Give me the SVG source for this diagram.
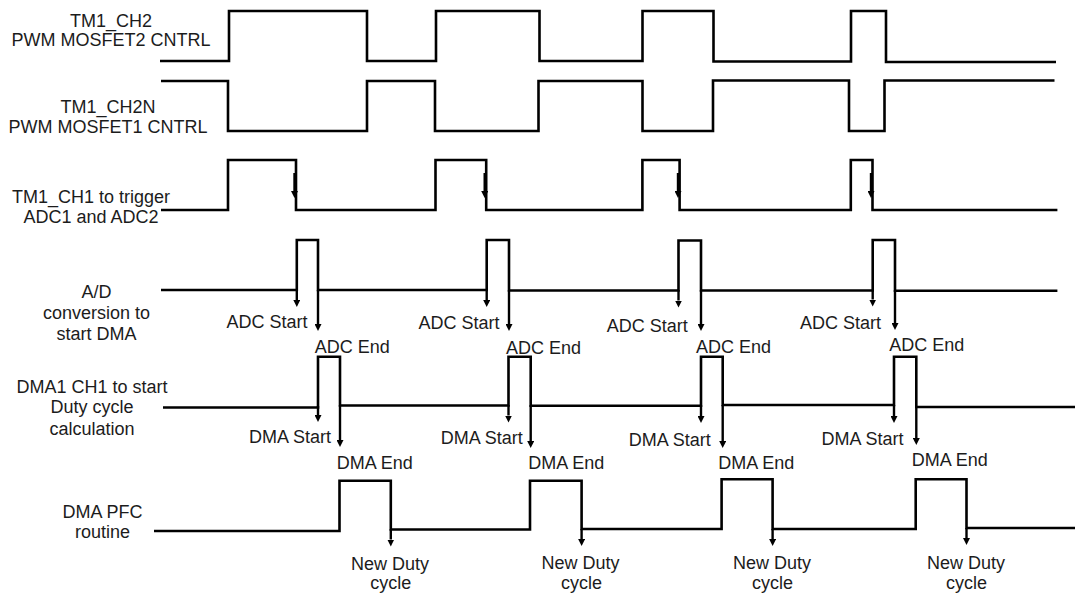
<svg xmlns="http://www.w3.org/2000/svg" width="1075" height="594" viewBox="0 0 1075 594">
<style>
.sig{fill:none;stroke:#000;stroke-width:2.6;stroke-linejoin:miter;stroke-linecap:butt}
.arr{fill:none;stroke:#000;stroke-width:2.4}
text{font-family:"Liberation Sans",Arial,sans-serif;font-size:18px;fill:#1c1c1c}
.c{text-anchor:middle}
</style>
<defs>
<marker id="ah" viewBox="0 0 7 7" refX="0" refY="3.5" markerWidth="7" markerHeight="7" markerUnits="userSpaceOnUse" orient="auto">
<path d="M0,0 L7,3.5 L0,7 z" fill="#000"/>
</marker>
</defs>
<rect width="1075" height="594" fill="#fff"/>

<g id="label-tm1ch2">
<text class="c" x="111" y="26.5">TM1_CH2</text>
<text class="c" x="111" y="46">PWM MOSFET2 CNTRL</text>
</g>
<g id="label-tm1ch2n">
<text class="c" x="108" y="112.5">TM1_CH2N</text>
<text class="c" x="108" y="132.5">PWM MOSFET1 CNTRL</text>
</g>
<g id="label-tm1ch1">
<text class="c" x="91" y="202.5">TM1_CH1 to trigger</text>
<text class="c" x="91" y="222.7">ADC1 and ADC2</text>
</g>
<g id="label-ad">
<text class="c" x="96.5" y="298.3">A/D</text>
<text class="c" x="96.5" y="318.5">conversion to</text>
<text class="c" x="96.5" y="340">start DMA</text>
</g>
<g id="label-dma">
<text class="c" x="92" y="392.7">DMA1 CH1 to start</text>
<text class="c" x="92" y="413.3">Duty cycle</text>
<text class="c" x="92" y="435">calculation</text>
</g>
<g id="label-pfc">
<text class="c" x="102.5" y="518.3">DMA PFC</text>
<text class="c" x="102.5" y="538">routine</text>
</g>

<g id="signal-tm1ch2">
<path class="sig" d="M160,61 H229 V11 H367 V61 H436 V11 H539.5 V61 H642.5 V11 H713.5 V61.5 H851 V11 H886 V62 H1056"/>
</g>
<g id="signal-tm1ch2n">
<path class="sig" d="M161,81 H228 V131 H367 V81 H435 V131 H538.5 V81 H642.5 V131 H713 V80.5 H849 V131 H884.5 V80.5 H1054.5"/>
</g>
<g id="signal-tm1ch1">
<path class="sig" d="M161,210 H228 V160 H296 V210 H435.5 V160 H486.2 V210 H642.4 V160 H679.6 V210 H850.8 V160 H872.5 V210 H1057.4"/>
</g>
<g id="signal-ad">
<path class="sig" d="M161,290 H296.8 V240 H318 V290 H486.7 V240 H509 V290.5 H678.5 V240.5 H701 V290.5 H872.7 V240 H895 V290.7 H1057.4"/>
</g>
<g id="signal-dma">
<path class="sig" d="M163,407.5 H318 V356.7 H340 V405.5 H508.5 V356.7 H530.7 V405.7 H701 V356.7 H722.7 V405 H894 V356.7 H916.3 V407 H1075"/>
</g>
<g id="signal-pfc">
<path class="sig" d="M154,531 H339.5 V480.7 H390.8 V529.5 H530 V480.7 H581.6 V529 H721.6 V479.3 H772.6 V529 H915.7 V479.3 H966.5 V528 H1075"/>
</g>

<g id="connectors">
<!-- TM1_CH1 falling-edge triggers -->
<line class="arr" x1="294.5" y1="173" x2="294.5" y2="191" marker-end="url(#ah)"/>
<line class="arr" x1="484.7" y1="173" x2="484.7" y2="191" marker-end="url(#ah)"/>
<line class="arr" x1="678" y1="173" x2="678" y2="191" marker-end="url(#ah)"/>
<line class="arr" x1="871" y1="173" x2="871" y2="191" marker-end="url(#ah)"/>
<!-- ADC Start -->
<line class="arr" x1="296.8" y1="290" x2="296.8" y2="300" marker-end="url(#ah)"/>
<line class="arr" x1="486.7" y1="290" x2="486.7" y2="300" marker-end="url(#ah)"/>
<line class="arr" x1="678.5" y1="290" x2="678.5" y2="300.5" marker-end="url(#ah)"/>
<line class="arr" x1="872.7" y1="290" x2="872.7" y2="299.5" marker-end="url(#ah)"/>
<!-- ADC End -->
<line class="arr" x1="318" y1="290" x2="318" y2="324" marker-end="url(#ah)"/>
<line class="arr" x1="509" y1="290" x2="509" y2="324" marker-end="url(#ah)"/>
<line class="arr" x1="701" y1="290" x2="701" y2="324" marker-end="url(#ah)"/>
<line class="arr" x1="895" y1="290" x2="895" y2="323" marker-end="url(#ah)"/>
<!-- DMA Start -->
<line class="arr" x1="318" y1="406" x2="318" y2="415" marker-end="url(#ah)"/>
<line class="arr" x1="508.5" y1="405" x2="508.5" y2="415.5" marker-end="url(#ah)"/>
<line class="arr" x1="701" y1="405" x2="701" y2="416" marker-end="url(#ah)"/>
<line class="arr" x1="894" y1="405" x2="894" y2="416" marker-end="url(#ah)"/>
<!-- DMA End -->
<line class="arr" x1="340" y1="405" x2="340" y2="440" marker-end="url(#ah)"/>
<line class="arr" x1="530.7" y1="405" x2="530.7" y2="441" marker-end="url(#ah)"/>
<line class="arr" x1="722.7" y1="405" x2="722.7" y2="441" marker-end="url(#ah)"/>
<line class="arr" x1="916.3" y1="406" x2="916.3" y2="438" marker-end="url(#ah)"/>
<!-- New Duty cycle -->
<line class="arr" x1="390.8" y1="529" x2="390.8" y2="539.5" marker-end="url(#ah)"/>
<line class="arr" x1="581.6" y1="529" x2="581.6" y2="539" marker-end="url(#ah)"/>
<line class="arr" x1="772.6" y1="529" x2="772.6" y2="539" marker-end="url(#ah)"/>
<line class="arr" x1="966.5" y1="528" x2="966.5" y2="538" marker-end="url(#ah)"/>
</g>

<g id="event-labels">
<text x="226.6" y="328">ADC Start</text>
<text x="418.4" y="329">ADC Start</text>
<text x="606.7" y="331.5">ADC Start</text>
<text x="800" y="329">ADC Start</text>
<text x="314.7" y="353.3">ADC End</text>
<text x="506" y="354">ADC End</text>
<text x="696" y="352.7">ADC End</text>
<text x="889.3" y="351">ADC End</text>
<text x="249" y="443">DMA Start</text>
<text x="440.7" y="444.3">DMA Start</text>
<text x="628.7" y="446">DMA Start</text>
<text x="821.5" y="445">DMA Start</text>
<text x="336.8" y="469.3">DMA End</text>
<text x="528.3" y="469.3">DMA End</text>
<text x="718.2" y="469.3">DMA End</text>
<text x="911.7" y="466.3">DMA End</text>
<text class="c" x="390" y="569.5">New Duty</text>
<text class="c" x="390.8" y="589">cycle</text>
<text class="c" x="580.6" y="569">New Duty</text>
<text class="c" x="581.6" y="589">cycle</text>
<text class="c" x="772" y="569">New Duty</text>
<text class="c" x="772.6" y="589">cycle</text>
<text class="c" x="966" y="568.5">New Duty</text>
<text class="c" x="966.5" y="588.5">cycle</text>
</g>
</svg>
